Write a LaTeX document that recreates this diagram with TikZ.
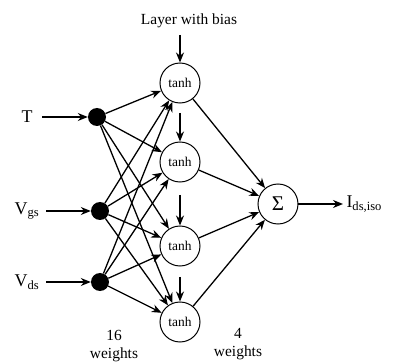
\documentclass[tikz,border=0pt]{standalone}
\usepackage{fontspec}
\setmainfont{Liberation Serif}
\usepackage{tikz}
\usetikzlibrary{arrows.meta}
\tikzset{
  neuron/.style={circle, draw, line width=1pt, minimum size=40bp, inner sep=0pt, font=\fontsize{13.5}{15}\selectfont},
  dot/.style={circle, fill, minimum size=18bp, inner sep=0pt},
  arr/.style={-{Stealth[length=10bp,width=8bp]}, line width=1.3pt},
  lab/.style={font=\fontsize{18}{20}\selectfont},
  labs/.style={font=\fontsize{15.5}{17}\selectfont}
}
\begin{document}
\begin{tikzpicture}[x=1bp,y=1bp]
  \useasboundingbox (0,0) rectangle (393,363);
  \node[neuron] (h1) at (180,280) {tanh};
  \node[neuron] (h2) at (180,201) {tanh};
  \node[neuron] (h3) at (180,117) {tanh};
  \node[neuron] (h4) at (180,41) {tanh};
  \node[neuron, font=\fontsize{21}{22}\selectfont] (S) at (278,159) {Σ};
  \node[dot] (dT) at (97,246) {};
  \node[dot] (dG) at (100,152) {};
  \node[dot] (dD) at (100,81) {};
  \node[lab] (T) at (27,246) {T};
  \node[lab] (G) at (27,152) {V\textsubscript{gs}};
  \node[lab] (D) at (27,81) {V\textsubscript{ds}};
  \node[lab, anchor=west] (I) at (343,159) {I\textsubscript{ds,iso}};
  \node[labs] (B) at (189,342) {Layer with bias};
  \coordinate (b1) at (180,328);
  \coordinate (b2) at (180,250);
  \coordinate (b3) at (180,168);
  \coordinate (b4) at (180,86);
  \coordinate (iT) at (42,246);
  \coordinate (iG) at (46,152);
  \coordinate (iD) at (46,81);
  \draw[arr] (iT) -- (dT);
  \draw[arr] (iG) -- (dG);
  \draw[arr] (iD) -- (dD);
  \foreach \d in {dT,dG,dD}
    \foreach \h in {h1,h2,h3,h4}
      \draw[arr] (\d) -- (\h);
  \foreach \h in {h1,h2,h3,h4}
    \draw[arr] (\h) -- (S);
  \foreach \i in {1,2,3,4}
    \draw[arr] (b\i) -- (h\i.north);
  \draw[arr] (S) -- (I.west);
  \node[labs] (w16) at (114,28) {16};
  \node[labs] (w16b) at (114,8) {weights};
  \node[labs] (w4) at (238,30) {4};
  \node[labs] (w4b) at (238,10) {weights};
\end{tikzpicture}
\end{document}
